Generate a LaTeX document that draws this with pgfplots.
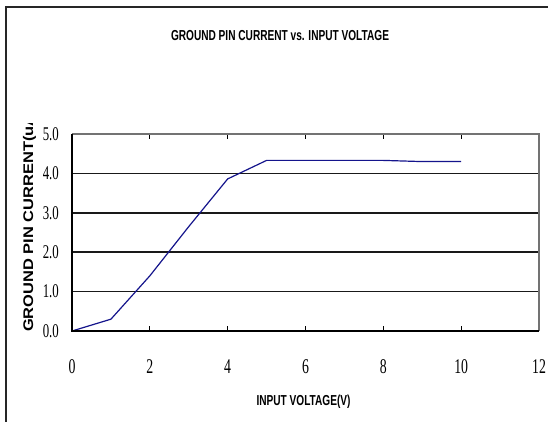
\documentclass[border=0pt]{standalone}
\usepackage{fontspec}
\usepackage{pgfplots}
\pgfplotsset{compat=1.18}
\setmainfont{Liberation Sans}
\newfontfamily\titlefont[FakeStretch=0.70]{Liberation Sans Bold}
\newfontfamily\ylabfont[FakeStretch=1.18]{Liberation Sans Bold}
\newfontfamily\tickfont[FakeStretch=0.66]{Liberation Serif}
\definecolor{linenavy}{RGB}{20,20,140}
\begin{document}
\begin{tikzpicture}[x=1bp,y=1bp]
\useasboundingbox (0,0) rectangle (548,421);
\fill[white] (0,0) rectangle (548,421);
% outer frame
\draw[line width=1.4bp, black!85] (6,-10) -- (6,414) -- (560,414);
\begin{axis}[
  at={(72bp,90bp)}, anchor=south west,
  scale only axis, width=467bp, height=197bp,
  xmin=0, xmax=12, ymin=0, ymax=5,
  xtick={0,2,...,12}, ytick={0,1,...,5},
  axis line style={draw=none},
  ymajorgrids, major grid style={black!90, line width=1.5bp},
  tick align=inside,
  x tick style={black, line width=0.8bp},
  major tick length=5bp,
  y tick style={draw=none},
  /pgf/number format/assume math mode=true,
  xticklabel style={font=\tickfont\fontsize{21}{21}\selectfont, anchor=center, yshift=-36bp},
  yticklabel style={font=\tickfont\fontsize{19.5}{19.5}\selectfont, anchor=east, inner sep=0pt, xshift=-13bp,
    /pgf/number format/.cd, fixed, fixed zerofill, precision=1},
  clip=false,
]
\addplot[linenavy, line width=1.2bp] coordinates {
 (0,0) (1,0.30) (2,1.40) (3,2.65) (4,3.86) (5,4.33) (6,4.33) (7,4.33) (8,4.33) (9,4.30) (10,4.30)
};
\draw[black!55, line width=1.4bp] (rel axis cs:0,1) -- (rel axis cs:1,1) -- (rel axis cs:1,0);
\draw[black, line width=1.5bp] (rel axis cs:0,1) -- (rel axis cs:0,0) -- (rel axis cs:1,0);
\end{axis}
\node[anchor=base, inner sep=0pt, font=\titlefont\fontsize{14.5}{14.5}\selectfont] at (280,381) {GROUND PIN CURRENT vs. INPUT VOLTAGE};
\node[anchor=base, inner sep=0pt, font=\titlefont\fontsize{14.5}{14.5}\selectfont] at (303.5,16) {INPUT VOLTAGE(V)};
\begin{scope}
\clip (0,0) rectangle (60,298);
\node[rotate=90, anchor=base west, inner sep=0pt, font=\ylabfont\fontsize{14}{14}\selectfont] at (33,89) {GROUND PIN CURRENT(uA)};
\end{scope}
\end{tikzpicture}
\end{document}
